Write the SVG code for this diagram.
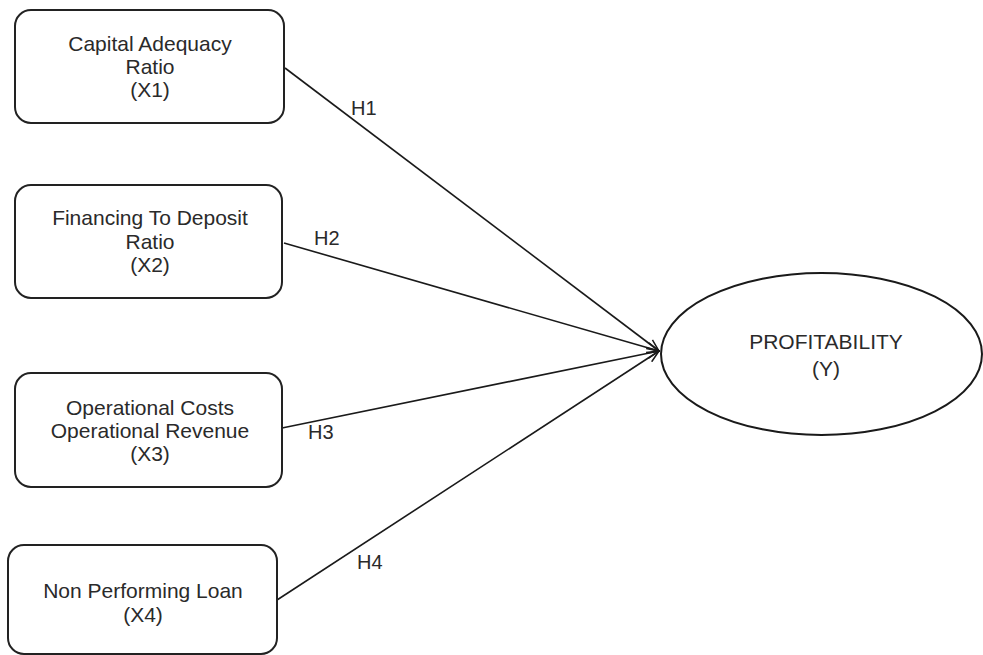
<svg xmlns="http://www.w3.org/2000/svg" width="983" height="655" viewBox="0 0 983 655">
<style>
.box{fill:#fff;stroke:#222;stroke-width:2}
.t{font-family:"Liberation Sans",Arial,sans-serif;font-size:21px;fill:#2a2a2a;text-anchor:middle}
.lbl{font-family:"Liberation Sans",Arial,sans-serif;font-size:20px;fill:#2a2a2a}
.conn{stroke:#1a1a1a;stroke-width:1.6;fill:none;marker-end:url(#arr)}
</style>
<defs>
<marker id="arr" viewBox="0 0 14 12" refX="13" refY="6" markerWidth="14" markerHeight="12" markerUnits="userSpaceOnUse" orient="auto">
<path d="M1,1 L13,6 L1,11" fill="none" stroke="#1a1a1a" stroke-width="1.5"/>
</marker>
</defs>
<rect width="983" height="655" fill="#fff"/>
<g id="connectors">
<line class="conn" x1="285" y1="68" x2="659" y2="351"/>
<line class="conn" x1="284" y1="243" x2="659" y2="351"/>
<line class="conn" x1="282" y1="428" x2="659" y2="351"/>
<line class="conn" x1="277" y1="600" x2="659" y2="351"/>
<text class="lbl" x="351" y="115">H1</text>
<text class="lbl" x="314" y="245">H2</text>
<text class="lbl" x="308" y="439">H3</text>
<text class="lbl" x="357" y="569">H4</text>
</g>
<g id="x1">
<rect class="box" x="15" y="10" width="269" height="113" rx="16"/>
<text class="t" x="150" y="51">Capital Adequacy</text>
<text class="t" x="150" y="74">Ratio</text>
<text class="t" x="150" y="97">(X1)</text>
</g>
<g id="x2">
<rect class="box" x="15" y="185" width="267" height="113" rx="16"/>
<text class="t" x="150" y="225">Financing To Deposit</text>
<text class="t" x="150" y="249">Ratio</text>
<text class="t" x="150" y="272">(X2)</text>
</g>
<g id="x3">
<rect class="box" x="15" y="373" width="267" height="114" rx="16"/>
<text class="t" x="150" y="415">Operational Costs</text>
<text class="t" x="150" y="438">Operational Revenue</text>
<text class="t" x="150" y="461">(X3)</text>
</g>
<g id="x4">
<rect class="box" x="8" y="545" width="269" height="109" rx="16"/>
<text class="t" x="143" y="598">Non Performing Loan</text>
<text class="t" x="143" y="622">(X4)</text>
</g>
<g id="y">
<ellipse cx="821.5" cy="354" rx="160.5" ry="81" fill="#fff" stroke="#1a1a1a" stroke-width="2"/>
<text class="t" x="826" y="349">PROFITABILITY</text>
<text class="t" x="826" y="376">(Y)</text>
</g>
</svg>
